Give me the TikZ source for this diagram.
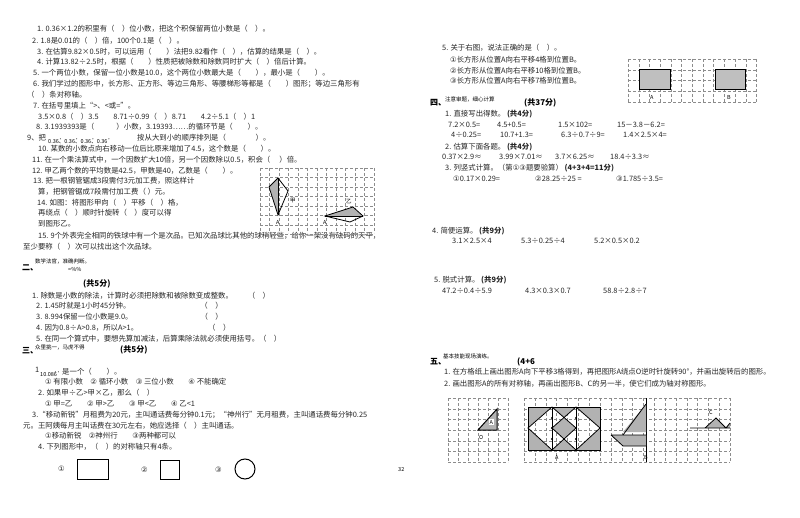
\documentclass[tikz,border=0pt]{standalone}
\usepackage{fontspec}
\setmainfont{Noto Sans CJK SC}
\newfontfamily\sym{DejaVu Sans}
\begin{document}
\begin{tikzpicture}[x=1pt,y=-1pt,
  tx/.style={anchor=west,inner sep=0pt,font=\fontsize{7.4}{8}\selectfont,text=black!85},
  hd/.style={anchor=west,inner sep=0pt,font=\fontsize{8}{9}\selectfont\bfseries},
  sm/.style={anchor=west,inner sep=0pt,font=\fontsize{5.5}{6}\selectfont},
  gridl/.style={black!45,densely dashed,line width=0.3pt},
  shp/.style={draw,line width=1pt},
  shade/.style={fill=black!30}]
\fill[white] (0,0) rectangle (800,518);
% left column
\node[tx] (l1) at (37,29) {1. 0.36×1.2的积里有（\quad）位小数，把这个积保留两位小数是（\quad）。};
\node[tx] (l2) at (32,41) {2. 1.8是0.01的（\quad）倍，100个0.1是（\quad）。};
\node[tx] (l3) at (37,52) {3. 在估算9.82×0.5时，可以运用（\qquad）法把9.82看作（\quad），估算的结果是（\quad）。};
\node[tx] (l4) at (37,62) {4. 计算13.82÷2.5时，根据（\qquad）性质把被除数和除数同时扩大（\quad）倍后计算。};
\node[tx] (l5) at (33,73) {5. 一个两位小数，保留一位小数是10.0，这个两位小数最大是（\qquad），最小是（\qquad）。};
\node[tx] (l6) at (33,84) {6. 我们学过的图形中，长方形、正方形、等边三角形、等腰梯形等都是（\qquad）图形；等边三角形有};
\node[tx] (l6b) at (27,95) {（\quad）条对称轴。};
\node[tx] (l7) at (33,106) {7. 在括号里填上“>、<或=”。};
\node[tx] (l7b) at (38,117) {3.5×0.8（\quad）3.5\qquad 8.71÷0.99（\quad）8.71\qquad 4.2÷5.1（\quad）1};
\node[tx] (l8) at (36,127) {8. 3.1939393是（\qquad\quad）小数，3.19393……的循环节是（\qquad）。};
\node[tx] (l9) at (27,138) {9、把};
\node[sm] (l9n) at (48,141) {0.3\.{6}、0.3\.{6}、0.3\.{6}、0.3\.{6}};
\node[tx] (l9b) at (137,138) {按从大到小的顺序排列是（\qquad\qquad）。};
\node[tx] (l10) at (38,149) {10. 某数的小数点向右移动一位后比原来增加了4.5，这个数是（\qquad）。};
\node[tx] (l11) at (32,160) {11. 在一个乘法算式中，一个因数扩大10倍，另一个因数除以0.5，积会（\quad\ ）倍。};
\node[tx] (l12) at (32,171) {12. 甲乙两个数的平均数是42.5，甲数是40，乙数是（\qquad）。};
\node[tx] (l13) at (33,181) {13. 把一根钢管锯成3段需付3元加工费，照这样计};
\node[tx] (l13b) at (38,192) {算，把钢管锯成7段需付加工费（\ ）元。};
\node[tx] (l14) at (37,203) {14. 如图：将图形甲向（\quad）平移（\quad）格，};
\node[tx] (l14b) at (38,213) {再绕点（\quad）顺时针旋转（\quad）度可以得};
\node[tx] (l14c) at (38,224) {到图形乙。};
\node[tx] (l15) at (38,236) {15. 9个外表完全相同的铁球中有一个是次品。已知次品球比其他的球稍轻些，给你一架没有砝码的天平，};
\node[tx] (l15b) at (23,247) {至少要称（\quad）次可以找出这个次品球。};
% grid left
\foreach \i in {0,...,12} \draw[gridl] (260+\i*9.5,168) -- (260+\i*9.5,233);
\foreach \j in {0,...,7} \draw[gridl] (260,168+\j*9.5) -- (374,168+\j*9.5);
\fill[shade] (278,178) -- (269,187) -- (278,215) -- cycle;
\draw[thick] (278,178) -- (269,187) -- (278,215) -- (288,191) -- cycle;
\draw (278,178) -- (278,215);
\fill[shade] (325,216) -- (353,207) -- (363,216) -- cycle;
\draw[thick] (325,216) -- (353,207) -- (363,216) -- (350,222) -- cycle;
\draw (325,216) -- (363,216);
\node[sm] (ga) at (276,222) {A};
\node[sm] (gj) at (290,201) {甲};
\node[sm] (gy) at (346,202) {乙};
\node[sm] (ga2) at (323,222) {A};
% section 2
\node[hd] (s2) at (22,268) {二、};
\node[sm] (s2t) at (35,261) {数学法官，准确判断。};
\node[sm] (s2x) at (68,269) {=\%\%};
\node[hd] (s2f) at (83,284) {(共5分)};
\node[tx] (b1) at (32,296) {1. 除数是小数的除法，计算时必须把除数和被除数变成整数。\qquad（\quad）};
\node[tx] (b2) at (36,306) {2. 1.45时就是1小时45分钟。\hspace{70pt}（\quad）};
\node[tx] (b3) at (36,317) {3. 8.994保留一位小数是9.0。\hspace{68pt}（\quad）};
\node[tx] (b4) at (36,328) {4. 因为0.8÷A>0.8，所以A>1。\hspace{70pt}（\quad）};
\node[tx] (b5) at (36,339) {5. 在同一个算式中，要想先算加减法，后算乘除法就必须使用括号。（\quad）};
\node[hd] (s3) at (22,351) {三、};
\node[sm] (s3t) at (35,347) {众里挑一，马虎不得};
\node[hd] (s3f) at (120,350) {(共5分)};
\node[tx] (c1) at (35,370) {1};
\node[sm] (c1n) at (40,374) {10.0\.{8}\.{6}};
\node[tx] (c1b) at (62,372) {是一个（\qquad）。};
\node[tx] (c1o) at (45,382) {{\sym①} 有限小数\quad {\sym②} 循环小数\quad {\sym③} 三位小数\qquad {\sym④} 不能确定};
\node[tx] (c2) at (38,393) {2. 如果甲÷乙>甲×乙，那么（\quad）};
\node[tx] (c2o) at (45,404) {{\sym①} 甲=乙\qquad {\sym②} 甲>乙\qquad {\sym③} 甲<乙\qquad {\sym④} 乙<1};
\node[tx] (c3) at (32,415) {3.“移动新锐”月租费为20元，主叫通话费每分钟0.1元；“神州行”无月租费，主叫通话费每分钟0.25};
\node[tx] (c3b) at (23,426) {元。王阿姨每月主叫话费在30元左右，她应选择（\quad）主叫通话。};
\node[tx] (c3o) at (45,436) {{\sym①}移动新锐\quad {\sym②}神州行\qquad {\sym③}两种都可以};
\node[tx] (c4) at (38,447) {4. 下列图形中，（\quad）的对称轴只有4条。};
\node[tx] (o1) at (58,469) {\sym①};
\draw[shp] (77,459) rectangle (108,479);
\node[tx] (o2) at (141,470) {\sym②};
\draw[shp] (160,460) rectangle (179,479);
\node[tx] (o3) at (215,470) {\sym③};
\draw[shp] (245,469) circle (10);
\node[sm] (pg) at (398,470) {32};
% right column
\node[tx] (r5) at (442,48) {5. 关于右图，说法正确的是（\quad）。};
\node[tx] (r5a) at (450,60) {{\sym①}长方形从位置A向右平移4格到位置B。};
\node[tx] (r5b) at (450,71) {{\sym②}长方形从位置A向右平移10格到位置B。};
\node[tx] (r5c) at (450,81) {{\sym③}长方形从位置A向右平移7格到位置B。};
\foreach \i in {0,...,12} \draw[gridl] (628+\i*10.7,59) -- (628+\i*10.7,102);
\foreach \j in {0,...,4} \draw[gridl] (628,59+\j*10.7) -- (757,59+\j*10.7);
\draw[shp,fill=black!25] (639,70) rectangle (670,90);
\draw[shp,fill=black!25] (715,70) rectangle (745,90);
\node[sm] (ra) at (650,97) {A};
\node[sm] (rb) at (727,97) {B};
\node[hd] (s4) at (430,103) {四、};
\node[sm] (s4t) at (445,99) {注意审题，细心计算};
\node[hd] (s4f) at (524,103) {(共37分)};
\node[tx] (d1) at (445,114) {1. 直接写出得数。\ \textbf{(共4分)}};
\node[tx] (d1a) at (448,125) {7.2×0.5=};
\node[tx] (d1b) at (497,125) {4.5+0.5=};
\node[tx] (d1c) at (558,125) {1.5×102=};
\node[tx] (d1d) at (617,125) {15－3.8－6.2=};
\node[tx] (d1e) at (451,135) {4÷0.25=};
\node[tx] (d1f) at (500,135) {10.7+1.3=};
\node[tx] (d1g) at (561,135) {6.3÷0.7÷9=};
\node[tx] (d1h) at (623,135) {1.4×2.5×4=};
\node[tx] (d2) at (445,147) {2. 估算下面各题。\ \textbf{(共4分)}};
\node[tx] (d2a) at (442,157) {0.37×2.9≈};
\node[tx] (d2b) at (499,157) {3.99×7.01≈};
\node[tx] (d2c) at (555,157) {3.7×6.25≈};
\node[tx] (d2d) at (610,157) {18.4÷3.3≈};
\node[tx] (d3) at (445,168) {3. 列竖式计算。（第{\sym①③}题要验算）\ \textbf{(4+3+4=11分)}};
\node[tx] (d3a) at (453,179) {{\sym①}0.17×0.29=};
\node[tx] (d3b) at (535,179) {{\sym②}28.25÷25 =};
\node[tx] (d3c) at (616,179) {{\sym③}1.785÷3.5=};
\node[tx] (d4) at (432,231) {4. 简便运算。\ \textbf{(共9分)}};
\node[tx] (d4a) at (452,241) {3.1×2.5×4};
\node[tx] (d4b) at (521,241) {5.3÷0.25÷4};
\node[tx] (d4c) at (594,241) {5.2×0.5×0.2};
\node[tx] (d5) at (434,280) {5. 脱式计算。\ \textbf{(共9分)}};
\node[tx] (d5a) at (442,291) {47.2÷0.4÷5.9};
\node[tx] (d5b) at (525,291) {4.3×0.3×0.7};
\node[tx] (d5c) at (603,291) {58.8÷2.8÷7};
\node[hd] (s5) at (430,362) {五、};
\node[sm] (s5t) at (443,356) {基本技能现场演练。};
\node[hd] (s5f) at (517,362) {(4+6};
\node[tx] (e1) at (444,372) {1. 在方格纸上画出图形A向下平移3格得到，再把图形A绕点O逆时针旋转90°，并画出旋转后的图形。};
\node[tx] (e2) at (444,384) {2. 画出图形A的所有对称轴，再画出图形B、C的另一半，使它们成为轴对称图形。};
% bottom grids
\foreach \i in {0,...,6} \draw[gridl] (448+\i*10,398) -- (448+\i*10,462);
\foreach \j in {0,...,6} \draw[gridl] (448,398+\j*10.7) -- (508,398+\j*10.7);
\fill[shade] (497,409) -- (497,430) -- (478,430) -- cycle;
\draw[shp] (497,409) -- (497,430) -- (478,430) -- cycle;
\node[sm,fill=white,inner sep=0.5pt] (fa) at (489,422) {A};
\node[sm] (fo) at (479,437) {O};
\foreach \i in {0,...,19} \draw[gridl] (524+\i*10.85,398) -- (524+\i*10.85,462);
\foreach \j in {0,...,6} \draw[gridl] (524,398+\j*10.7) -- (730,398+\j*10.7);
% figure A
\fill[shade] (528,407) -- (552,407) -- (528,428) -- cycle;
\fill[shade] (528,450) -- (552,450) -- (528,428) -- cycle;
\fill[shade] (600,407) -- (576,407) -- (600,428) -- cycle;
\fill[shade] (600,450) -- (576,450) -- (600,428) -- cycle;
\fill[shade] (552,407) -- (576,407) -- (564,418) -- cycle;
\fill[shade] (552,428) -- (564,418) -- (576,428) -- (564,439) -- cycle;
\fill[shade] (552,450) -- (576,450) -- (564,439) -- cycle;
\draw[shp] (528,407) rectangle (600,450);
\draw[thick] (552,407) -- (528,428) -- (552,450) (576,407) -- (600,428) -- (576,450);
\draw[thick] (552,407) -- (552,450) (576,407) -- (576,450);
\draw[thick] (552,407) -- (576,428) -- (552,450) (576,407) -- (552,428) -- (576,450);
\foreach \y in {418,428,439} {\fill (552,\y) circle (1.2); \fill (576,\y) circle (1.2);}
\node[sm] (la) at (555,457) {A};
% figure B
\draw[thick] (646,398) -- (646,462);
\fill[shade] (623,432) -- (646,432) -- (646,404) -- cycle;
\fill[shade] (611,435) -- (646,435) -- (646,446) -- (623,446) -- cycle;
\draw[thick] (623,435) -- (646,404);
\draw[thick] (611,435) -- (646,435) (611,435) -- (623,446) -- (646,446);
\node[sm] (lb) at (644,457) {B};
% figure C
\fill[shade] (705,428) -- (716,418) -- (726,428) -- cycle;
\fill[shade] (726,428) -- (730,423) -- (730,428) -- cycle;
\draw[thick] (690,428) -- (730,428) (695,428) -- (705,428) -- (716,418) -- (726,428) -- (730,423);
\node[sm] (lc) at (709,412) {C};
\end{tikzpicture}
\end{document}
